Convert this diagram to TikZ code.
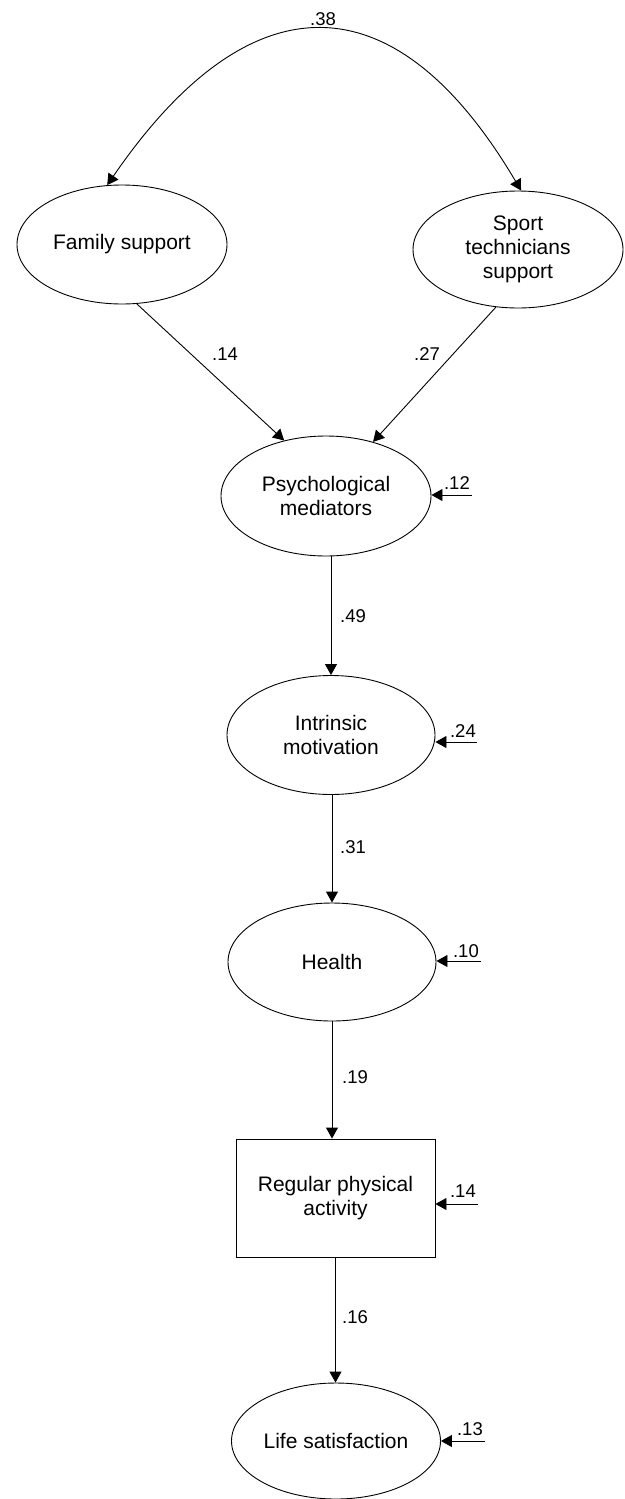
\documentclass[tikz,border=0pt]{standalone}
\usepackage{fontspec}
\setmainfont{Liberation Sans}
\usetikzlibrary{shapes.geometric,arrows.meta}
\begin{document}
\begin{tikzpicture}[x=1pt,y=-1pt,
  lat/.style={draw,ellipse,inner sep=0pt,line width=0.9pt,align=center,
    font=\fontsize{21}{24}\selectfont},
  obs/.style={draw,rectangle,inner sep=0pt,line width=0.9pt,align=center,
    minimum width=199pt,minimum height=118pt,font=\fontsize{21}{24}\selectfont},
  arr/.style={line width=0.9pt,-{Triangle[length=11pt,width=12pt]}},
  darr/.style={line width=0.9pt,{Triangle[length=11pt,width=12pt]}-{Triangle[length=11pt,width=12pt]}},
  coef/.style={inner sep=0pt,anchor=base west,font=\fontsize{18.5}{20}\selectfont},
  res/.style={inner sep=0pt,anchor=base east,font=\fontsize{18.5}{20}\selectfont}]
\useasboundingbox (0,0) rectangle (624,1499);

\node[lat,minimum width=210pt,minimum height=119pt] (fam) at (122,244.5) {Family support};
\node[lat,minimum width=210pt,minimum height=117pt] (spt) at (518,249.5) {Sport\\technicians\\support};
\node[lat,minimum width=210pt,minimum height=120pt] (psy) at (326,496) {Psychological\\mediators};
\node[lat,minimum width=208pt,minimum height=119pt] (int) at (331,735) {Intrinsic\\motivation};
\node[lat,minimum width=208pt,minimum height=118pt] (hea) at (332,962) {Health};
\node[obs] (rpa) at (335.5,1198) {Regular physical\\activity};
\node[lat,minimum width=209pt,minimum height=116pt] (lif) at (336,1441) {Life satisfaction};

% correlation
\draw[darr] (fam.104) .. controls (250,-23) and (395,-23) .. (spt.87.5);
\node[inner sep=0pt,anchor=base,font=\fontsize{18.5}{20}\selectfont] (c38) at (323,25) {.38};

% paths
\draw[arr] (fam.-76) -- (psy.127);
\draw[arr] (spt.-111.5) -- (psy.49);
\draw[arr] (psy.south -| int.north) -- (int.north);
\draw[arr] (int.south -| hea.north) -- (hea.north);
\draw[arr] (hea.south) -- (hea.south |- rpa.north);
\draw[arr] (rpa.south) -- (rpa.south |- lif.north);

\node[coef] (c14) at (212,360) {.14};
\node[coef] (c27) at (414,360) {.27};
\node[coef] (c49) at (340,622) {.49};
\node[coef] (c31) at (340,853) {.31};
\node[coef] (c19) at (342,1083) {.19};
\node[coef] (c16) at (342,1323) {.16};

% residuals
\coordinate (r1) at (472,495);
\coordinate (r2) at (477,742);
\coordinate (r3) at (481,961);
\coordinate (r4) at (478,1204);
\coordinate (r5) at (485,1441);
\draw[arr] (r1) -- (r1 -| psy.east);
\draw[arr] (r2) -- (r2 -| int.east);
\draw[arr] (r3) -- (r3 -| hea.east);
\draw[arr] (r4) -- (r4 -| rpa.east);
\draw[arr] (r5) -- (r5 -| lif.east);
\node[res] (e1) at (470,489) {.12};
\node[res] (e2) at (476,737) {.24};
\node[res] (e3) at (479,957) {.10};
\node[res] (e4) at (476,1197) {.14};
\node[res] (e5) at (483,1435) {.13};
\end{tikzpicture}
\end{document}
